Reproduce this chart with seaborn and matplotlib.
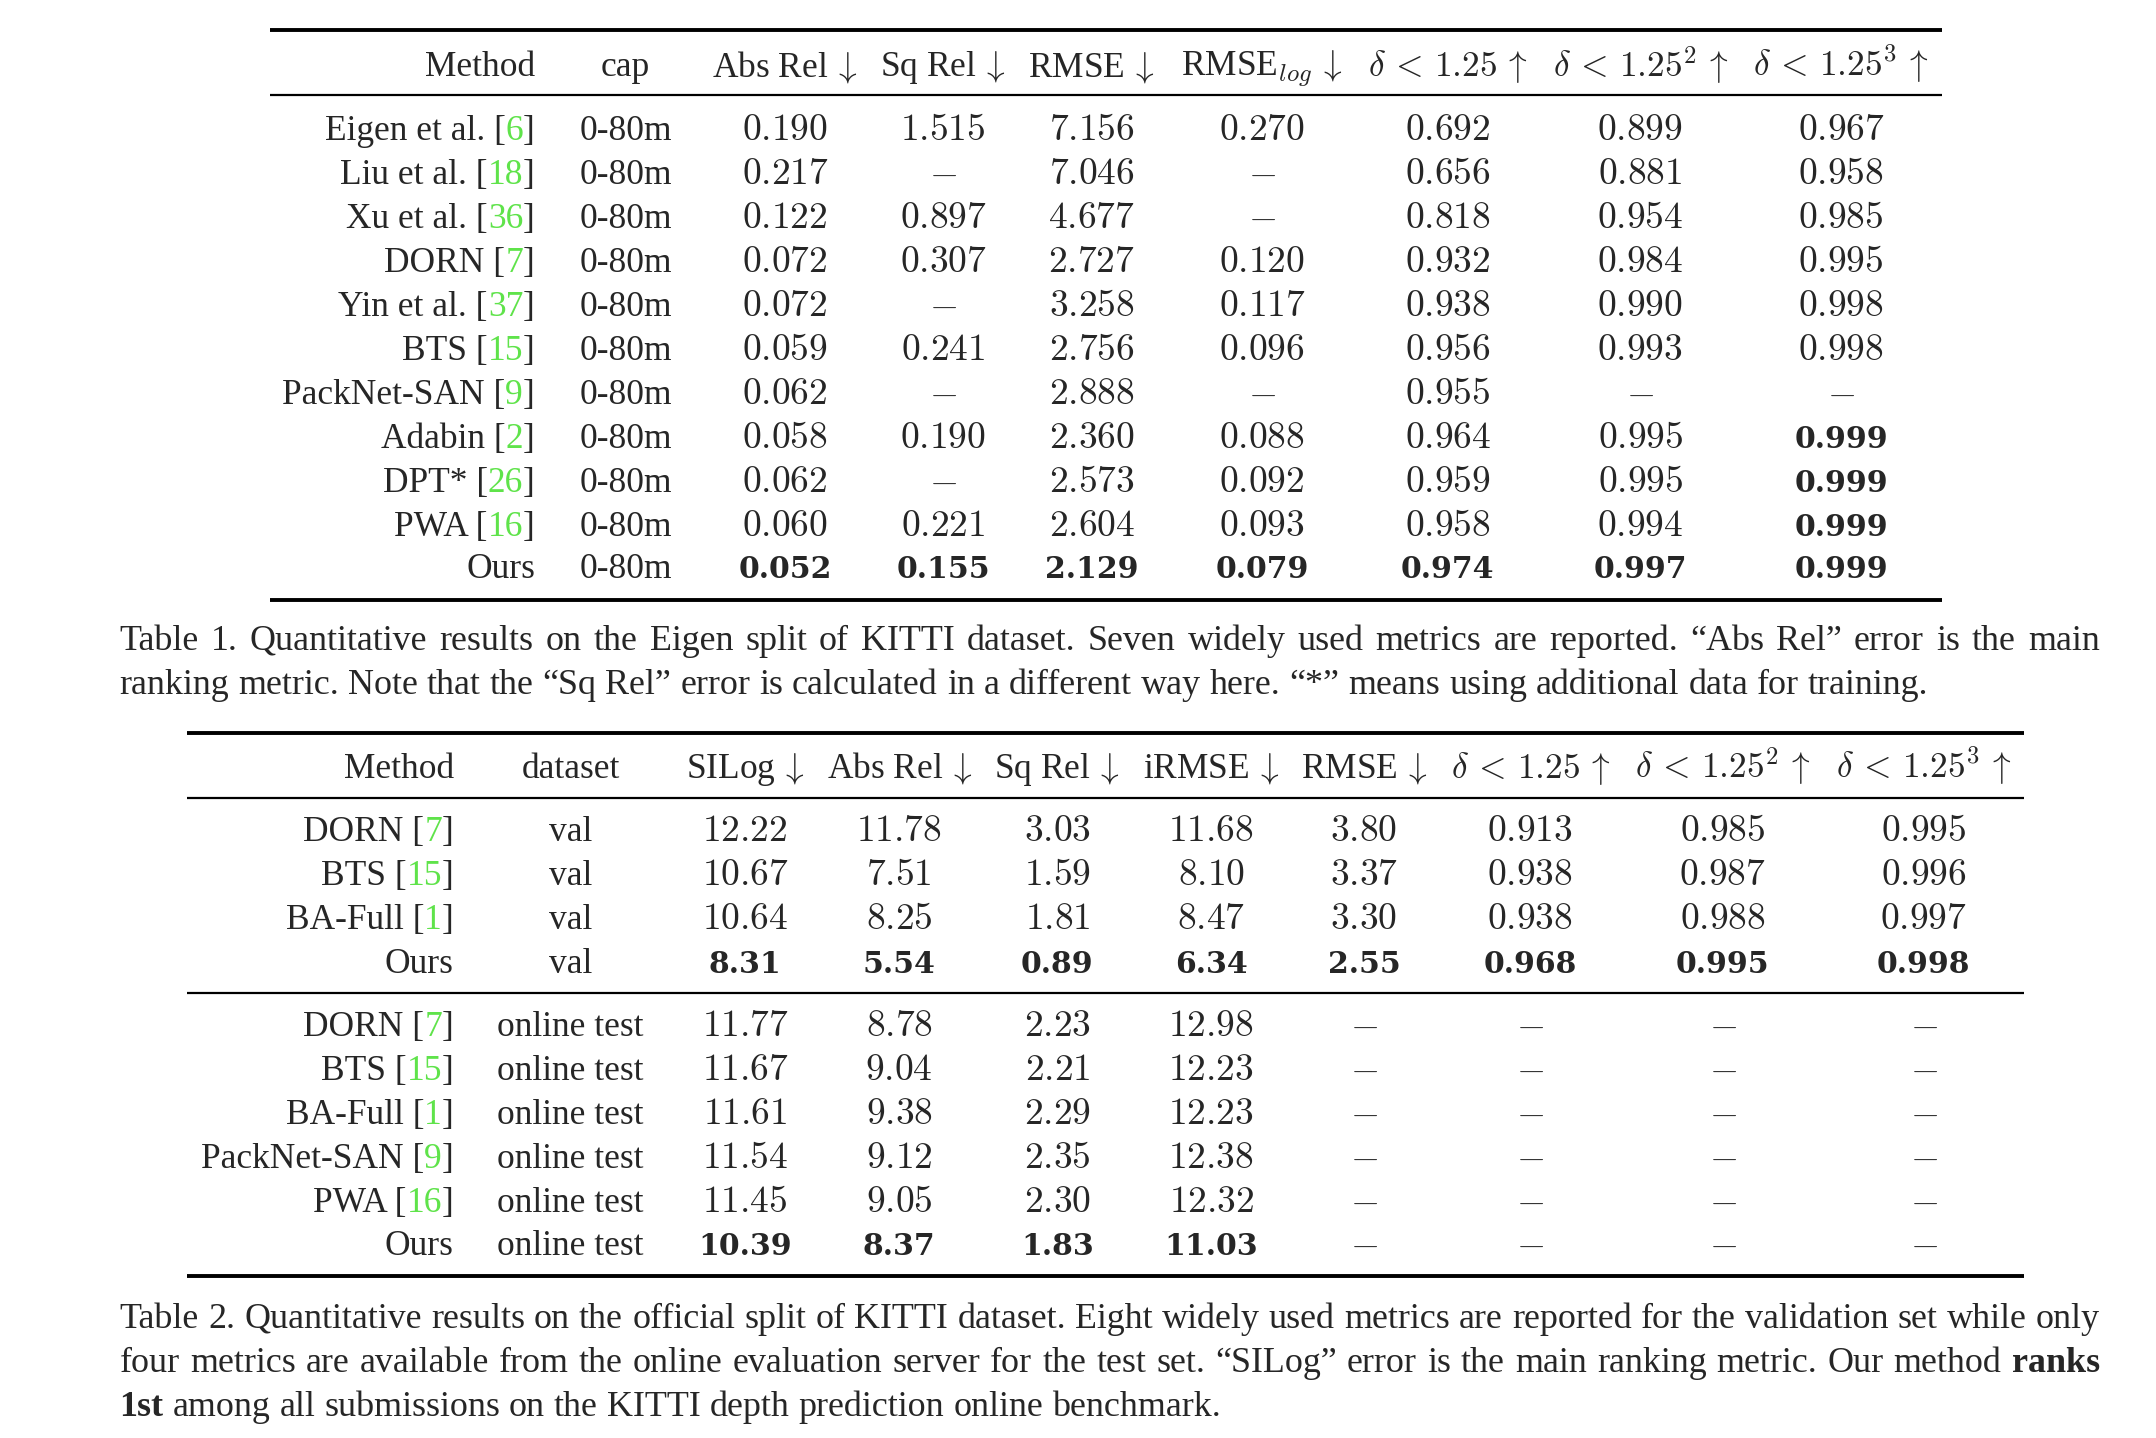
import numpy as np
import pandas as pd
import seaborn as sns
import matplotlib.pyplot as plt

sns.set_theme(style="white")
plt.rcParams['font.family'] = ['Liberation Serif', 'DejaVu Serif']
plt.rcParams['mathtext.fontset'] = 'cm'

nan = np.nan

# ---- Table 1 data (Eigen split) ----
t1_methods = ["Eigen et al.", "Liu et al.", "Xu et al.", "DORN", "Yin et al.", "BTS",
              "PackNet-SAN", "Adabin", "DPT*", "PWA", "Ours"]
t1_refs = ["6", "18", "36", "7", "37", "15", "9", "2", "26", "16", ""]
t1_cap = ["0-80m"] * 11
t1_abs_rel = [0.190, 0.217, 0.122, 0.072, 0.072, 0.059, 0.062, 0.058, 0.062, 0.060, 0.052]
t1_sq_rel = [1.515, nan, 0.897, 0.307, nan, 0.241, nan, 0.190, nan, 0.221, 0.155]
t1_rmse = [7.156, 7.046, 4.677, 2.727, 3.258, 2.756, 2.888, 2.360, 2.573, 2.604, 2.129]
t1_rmse_log = [0.270, nan, nan, 0.120, 0.117, 0.096, nan, 0.088, 0.092, 0.093, 0.079]
t1_d1 = [0.692, 0.656, 0.818, 0.932, 0.938, 0.956, 0.955, 0.964, 0.959, 0.958, 0.974]
t1_d2 = [0.899, 0.881, 0.954, 0.984, 0.990, 0.993, nan, 0.995, 0.995, 0.994, 0.997]
t1_d3 = [0.967, 0.958, 0.985, 0.995, 0.998, 0.998, nan, 0.999, 0.999, 0.999, 0.999]
t1_headers = ["cap", r"Abs Rel$\,\downarrow$", r"Sq Rel$\,\downarrow$", r"RMSE$\,\downarrow$",
              r"RMSE$_{log}\,\downarrow$", r"$\delta\,<\,1.25\,\uparrow$",
              r"$\delta\,<\,1.25^2\,\uparrow$", r"$\delta\,<\,1.25^3\,\uparrow$"]
t1_bold = [(10, c) for c in range(2, 9)] + [(7, 8), (8, 8), (9, 8)]

# ---- Table 2 data (official split) ----
t2_methods = ["DORN", "BTS", "BA-Full", "Ours", "DORN", "BTS", "BA-Full",
              "PackNet-SAN", "PWA", "Ours"]
t2_refs = ["7", "15", "1", "", "7", "15", "1", "9", "16", ""]
t2_dataset = ["val"] * 4 + ["online test"] * 6
t2_silog = [12.22, 10.67, 10.64, 8.31, 11.77, 11.67, 11.61, 11.54, 11.45, 10.39]
t2_abs_rel = [11.78, 7.51, 8.25, 5.54, 8.78, 9.04, 9.38, 9.12, 9.05, 8.37]
t2_sq_rel = [3.03, 1.59, 1.81, 0.89, 2.23, 2.21, 2.29, 2.35, 2.30, 1.83]
t2_irmse = [11.68, 8.10, 8.47, 6.34, 12.98, 12.23, 12.23, 12.38, 12.32, 11.03]
t2_rmse = [3.80, 3.37, 3.30, 2.55] + [nan] * 6
t2_d1 = [0.913, 0.938, 0.938, 0.968] + [nan] * 6
t2_d2 = [0.985, 0.987, 0.988, 0.995] + [nan] * 6
t2_d3 = [0.995, 0.996, 0.997, 0.998] + [nan] * 6
t2_headers = ["dataset", r"SILog$\,\downarrow$", r"Abs Rel$\,\downarrow$", r"Sq Rel$\,\downarrow$",
              r"iRMSE$\,\downarrow$", r"RMSE$\,\downarrow$", r"$\delta\,<\,1.25\,\uparrow$",
              r"$\delta\,<\,1.25^2\,\uparrow$", r"$\delta\,<\,1.25^3\,\uparrow$"]
t2_bold = [(3, c) for c in range(2, 10)] + [(9, c) for c in range(2, 10)]

# "**" marks a bold word
cap1 = [
    ("Table 1.  Quantitative results on the Eigen split of KITTI dataset.  Seven widely used "
     "metrics are reported.  “Abs Rel” error is the main", True),
    ("ranking metric. Note that the “Sq Rel” error is calculated in a different way here. "
     "“*” means using additional data for training.", False),
]
cap2 = [
    ("Table 2. Quantitative results on the official split of KITTI dataset. Eight widely used "
     "metrics are reported for the validation set while only", True),
    ("four metrics are available from the online evaluation server for the test set. "
     "“SILog” error is the main ranking metric. Our method **ranks", True),
    ("**1st among all submissions on the KITTI depth prediction online benchmark.", False),
]

W, H = 2156, 1438
FS = 25.5      # table text
NFS = 27       # table numbers (math)
BFS = 21.5     # bold numbers
CFS = 25.9     # captions
GREEN = "#5fe34a"

fig = plt.figure(figsize=(W / 100, H / 100), dpi=100)
ax = fig.add_axes([0, 0, 1, 1])
ax.set_xlim(0, W)
ax.set_ylim(H, 0)
ax.axis("off")
renderer = fig.canvas.get_renderer()


def width(t):
    return t.get_window_extent(renderer).width


def num_cell(x, y, v, dec, bold):
    off = 0.33 * FS * 100 / 72
    if np.isnan(v):
        ax.text(x, y + off, r"$-$", fontsize=NFS, ha="center", va="baseline")
        return
    s = f"{v:.{dec}f}"
    if bold:
        ax.text(x, y + off, s, fontsize=BFS, ha="center", va="baseline",
                family="DejaVu Serif", fontweight="bold")
    else:
        ax.text(x, y + off, "$" + s + "$", fontsize=NFS, ha="center", va="baseline")


def method_cell(x_right, y, name, ref):
    base = y + 0.33 * FS * 100 / 72
    if not ref:
        ax.text(x_right, base, name, fontsize=FS, ha="right", va="baseline")
        return
    t = ax.text(x_right, base, "]", fontsize=FS, ha="right", va="baseline")
    x = x_right - width(t)
    t = ax.text(x, base, ref, fontsize=FS, ha="right", va="baseline", color=GREEN)
    x -= width(t)
    ax.text(x, base, name + " [", fontsize=FS, ha="right", va="baseline")


def draw_table(x0, x1, top, head_y, mids, bottom, method_x, col_x, headers,
               methods, refs, text_col, num_cols, decs, row_ys, bold):
    ax.hlines([top, bottom], x0, x1, color="black", lw=2.8)
    ax.hlines(mids, x0, x1, color="black", lw=1.6)
    off = 0.33 * FS * 100 / 72
    ax.text(method_x, head_y + off, "Method", fontsize=FS, ha="right", va="baseline")
    for cx, h in zip(col_x, headers):
        ax.text(cx, head_y + off, h, fontsize=FS, ha="center", va="baseline")
    for i, y in enumerate(row_ys):
        method_cell(method_x, y, methods[i], refs[i])
        ax.text(col_x[0], y + off, text_col[i], fontsize=FS, ha="center", va="baseline")
        for j, (vals, dec) in enumerate(zip(num_cols, decs)):
            num_cell(col_x[j + 1], y, vals[i], dec, (i, j + 2) in bold)


def caption(lines, x0, x1, y0, dy):
    sp = 0.25 * CFS * 100 / 72
    for k, (line, justify) in enumerate(lines):
        y = y0 + k * dy + 0.33 * CFS * 100 / 72
        texts = []
        for w in line.split():
            b = w.startswith("**")
            t = ax.text(0, y, w.lstrip("*") if b else w, fontsize=CFS, ha="left",
                        va="baseline", fontweight="bold" if b else "normal")
            texts.append(t)
        ws = [width(t) for t in texts]
        if justify and len(ws) > 1:
            gap = (x1 - x0 - sum(ws)) / (len(ws) - 1)
        else:
            gap = sp
        x = x0
        for t, w in zip(texts, ws):
            t.set_x(x)
            x += w + gap


s = 1.375
# Table 1
t1_rows = [y * s for y in [93, 125, 157, 189, 221, 253, 285, 317, 349, 381, 412]]
draw_table(196 * s, 1412 * s, 22 * s, 47 * s, [69 * s], 436 * s, 389 * s,
           [c * s for c in [455, 571, 686, 794, 918, 1053, 1193, 1339]], t1_headers,
           t1_methods, t1_refs, t1_cap,
           [t1_abs_rel, t1_sq_rel, t1_rmse, t1_rmse_log, t1_d1, t1_d2, t1_d3],
           [3] * 7, t1_rows, t1_bold)
caption(cap1, 87 * s, 1527 * s, 464 * s, 32 * s)

# Table 2
t2_rows = [y * s for y in [603, 635, 667, 699, 745, 777, 809, 841, 873, 904]]
draw_table(136 * s, 1472 * s, 533 * s, 557 * s, [580 * s, 722 * s], 928 * s, 330 * s,
           [c * s for c in [415, 542, 654, 769, 881, 992, 1113, 1253, 1399]], t2_headers,
           t2_methods, t2_refs, t2_dataset,
           [t2_silog, t2_abs_rel, t2_sq_rel, t2_irmse, t2_rmse, t2_d1, t2_d2, t2_d3],
           [2] * 5 + [3] * 3, t2_rows, t2_bold)
caption(cap2, 87 * s, 1527 * s, 957 * s, 32 * s)

fig.savefig("out.png", dpi=100, facecolor="white")
